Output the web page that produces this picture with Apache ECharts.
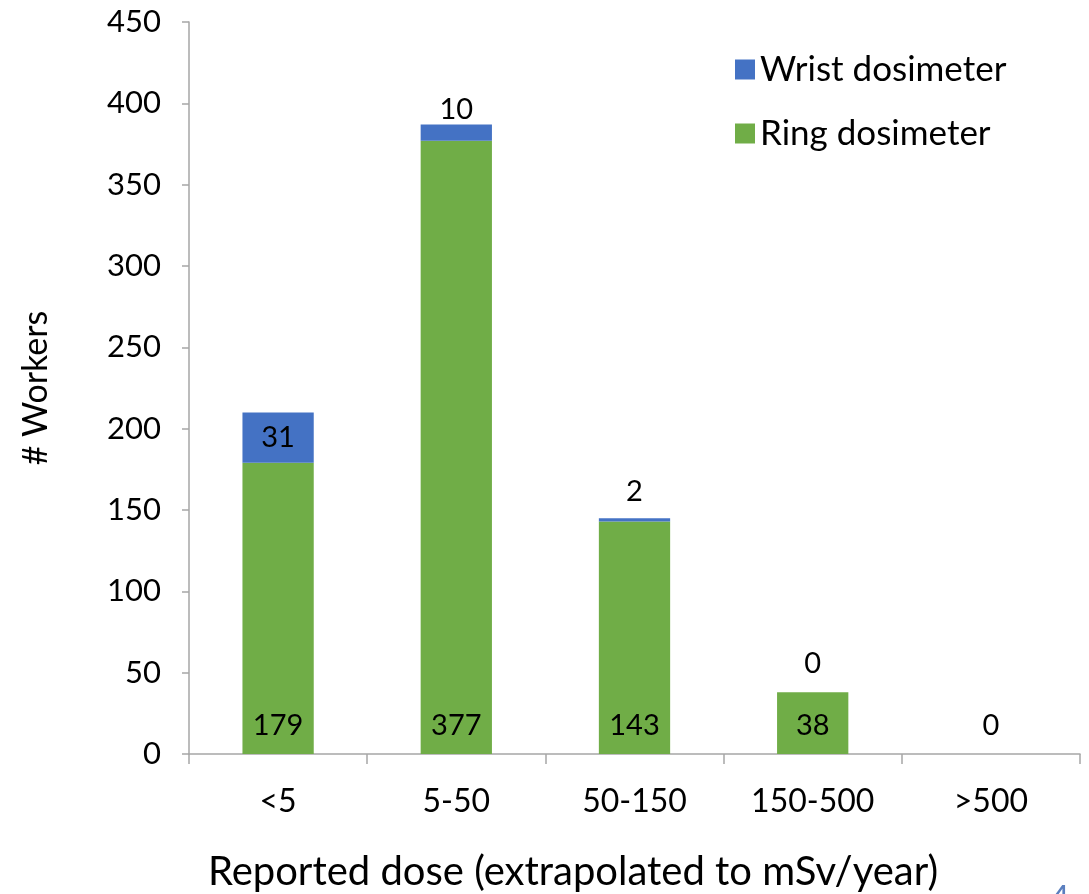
<!DOCTYPE html>
<html>
<head>
<meta charset="utf-8">
<script src="https://cdn.jsdelivr.net/npm/echarts@6/dist/echarts.min.js"></script>
<style>
  html, body { margin: 0; padding: 0; background: #fff; }
  #chart { width: 1089px; height: 894px; }
</style>
</head>
<body>
<div id="chart"></div>
<script>
// Dose bands (extrapolated to mSv/year)
const categories = ['<5', '5-50', '50-150', '150-500', '>500'];
// Number of workers per band and dosimeter type
const ringValues = [179, 377, 143, 38, 0];
const wristValues = [31, 10, 2, 0, 0];
// Where each wrist label sits relative to its segment, and its gap in px
const wristLabelPlacement = ['inside', 'top', 'top', 'top', 'none'];
const wristLabelGap = [0, 0, 12, 14, 0];

const FONT = 'Lato, "Open Sans", sans-serif';
const axisGray = '#a6a6a6';

const chart = echarts.init(document.getElementById('chart'), null, { renderer: 'canvas' });

const wristData = wristValues.map((v, i) => {
  const place = wristLabelPlacement[i];
  return {
    value: v,
    label: place === 'none'
      ? { show: false }
      : { show: true, position: place, distance: wristLabelGap[i] }
  };
});

chart.setOption({
  animation: false,
  backgroundColor: '#ffffff',
  textStyle: { fontFamily: FONT },
  grid: { left: 189, right: 9, top: 22, bottom: 140, containLabel: false, outerBoundsMode: 'none' },
  legend: {
    orient: 'vertical',
    left: 730,
    top: 47,
    itemWidth: 20,
    itemHeight: 20,
    itemGap: 29,
    icon: 'rect',
    data: ['Wrist dosimeter', 'Ring dosimeter'],
    textStyle: { fontFamily: FONT, fontSize: 35, color: '#000' }
  },
  xAxis: {
    type: 'category',
    data: categories,
    axisLine: { lineStyle: { color: axisGray, width: 1.5 } },
    axisTick: { show: true, length: 10, alignWithLabel: false, lineStyle: { color: axisGray, width: 1.5 } },
    axisLabel: { fontFamily: FONT, fontSize: 32, color: '#000', margin: 32 }
  },
  yAxis: {
    type: 'value',
    min: 0,
    max: 450,
    interval: 50,
    name: '# Workers',
    nameLocation: 'middle',
    nameGap: 136,
    nameRotate: 90,
    nameTextStyle: { fontFamily: FONT, fontSize: 34, color: '#000' },
    axisLine: { show: true, lineStyle: { color: axisGray, width: 1.5 } },
    axisTick: { show: true, length: 7, inside: false, lineStyle: { color: axisGray, width: 1.5 } },
    splitLine: { show: false },
    axisLabel: { fontFamily: FONT, fontSize: 31, color: '#000', margin: 28 }
  },
  series: [
    {
      name: 'Ring dosimeter',
      type: 'bar',
      stack: 'workers',
      barWidth: '40%',
      itemStyle: { color: '#70ad47' },
      label: {
        show: true,
        position: 'insideBottom',
        distance: 14,
        fontFamily: FONT,
        fontSize: 29,
        color: '#000'
      },
      data: ringValues
    },
    {
      name: 'Wrist dosimeter',
      type: 'bar',
      stack: 'workers',
      barWidth: '40%',
      itemStyle: { color: '#4472c4' },
      label: {
        show: true,
        fontFamily: FONT,
        fontSize: 29,
        color: '#000'
      },
      data: wristData
    }
  ],
  graphic: [
    {
      // horizontal axis title
      type: 'text',
      x: 573,
      y: 872,
      style: {
        text: 'Reported dose (extrapolated to mSv/year)',
        fontFamily: FONT,
        fontSize: 40,
        fill: '#000',
        align: 'center',
        verticalAlign: 'middle'
      }
    },
    {
      // slide page number
      type: 'text',
      left: 1050,
      top: 882,
      style: { text: '4', fontFamily: FONT, fontSize: 34, fill: '#5b7fbf' }
    }
  ]
});
</script>
</body>
</html>
